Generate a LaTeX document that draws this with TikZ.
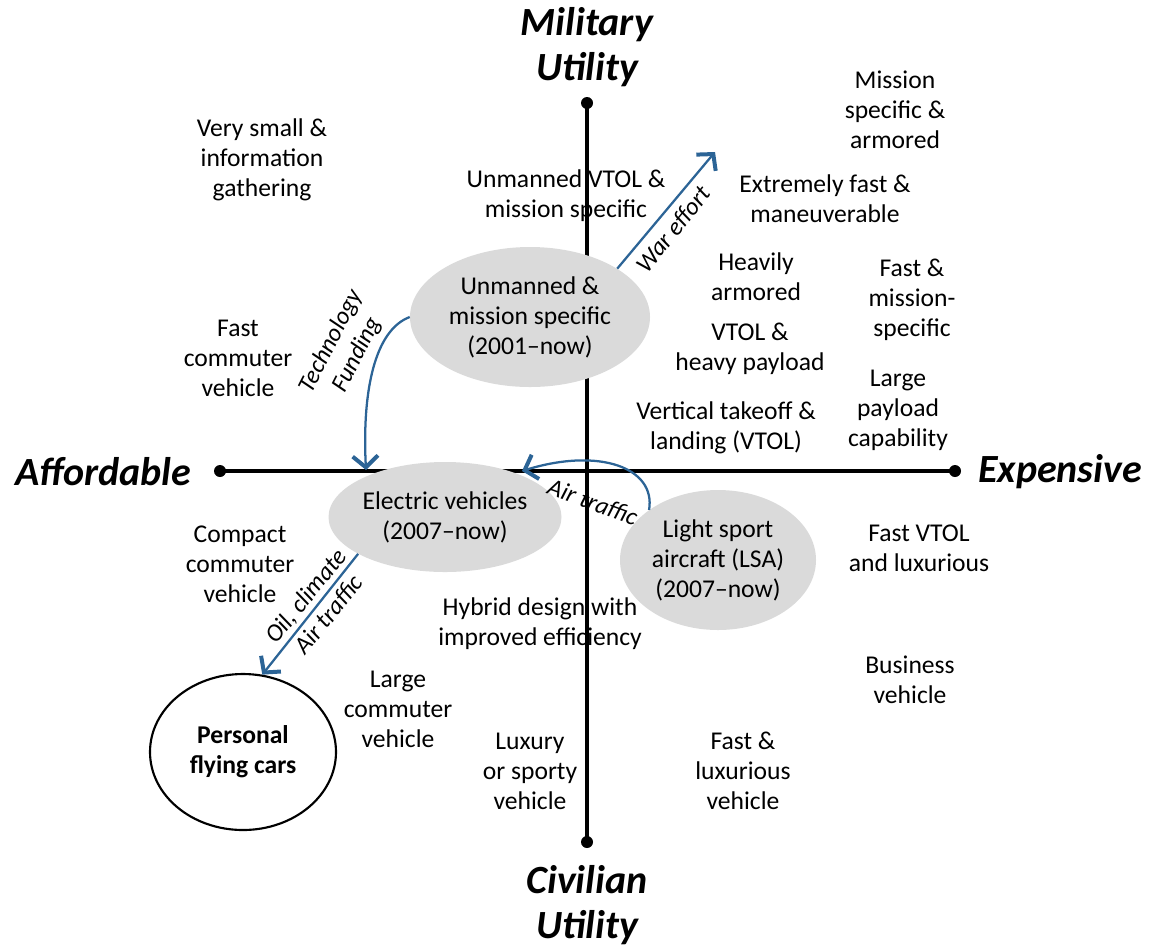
\documentclass[tikz,border=0pt]{standalone}
\usepackage{fontspec}
\setmainfont{Carlito}
\usetikzlibrary{arrows.meta,shapes.geometric}
\definecolor{arrblue}{RGB}{44,100,150}
\definecolor{ellgray}{RGB}{218,218,218}
\tikzset{
  lbl/.style={align=center, font=\fontsize{19.2}{22.5}\selectfont, inner sep=0pt},
  axtitle/.style={align=center, font=\fontsize{30}{34}\selectfont\bfseries\itshape, inner sep=0pt},
  grayell/.style={ellipse, fill=ellgray, draw=none, inner sep=0pt, align=center, font=\fontsize{19.2}{22.5}\selectfont},
  flow/.style={draw=arrblue, line width=1.7pt, -{Straight Barb[length=8.5pt,width=19pt,line width=3pt]}},
  flowlbl/.style={align=center, font=\fontsize{18.5}{22}\selectfont\itshape, inner sep=0pt},
  axis/.style={line width=3pt},
  enddot/.style={circle, fill=black, inner sep=0pt, minimum size=9pt}
}
\begin{document}
\begin{tikzpicture}[x=0.75pt,y=-0.75pt]
\useasboundingbox (0,0) rectangle (1162,947);
% axes
\node[enddot] (dl) at (220,471) {};
\node[enddot] (dr) at (955,471) {};
\node[enddot] (dt) at (587,103) {};
\node[enddot] (db) at (587,842) {};
\draw[axis] (dl.center) -- (dr.center);
\draw[axis] (dt.center) -- (db.center);
% axis titles
\node[axtitle] (mil) at (587,47) {Military\\Utility};
\node[axtitle] (civ) at (587,905) {Civilian\\Utility};
\node[axtitle] (aff) at (103,472) {Affordable};
\node[axtitle] (exp) at (1060,472) {Expensive};
% ellipses
\node[grayell, minimum width=180pt, minimum height=105pt] (unm) at (530,317) {Unmanned \&\\mission specific\\(2001--now)};
\node[grayell, minimum width=168pt, minimum height=82.5pt] (ev) at (445,517) {Electric vehicles\\(2007--now)};
\node[grayell, minimum width=147pt, minimum height=105pt] (lsa) at (718,560) {Light sport\\aircraft (LSA)\\(2007--now)};
\node[ellipse, draw=black, line width=1.6pt, fill=white, inner sep=0pt, minimum width=139.5pt, minimum height=117pt, align=center, font=\fontsize{19.2}{22.5}\selectfont\bfseries] (pfc) at (243,752) {Personal\\flying cars};
% labels
\node[lbl] (t1) at (262,160) {Very small \&\\information\\gathering};
\node[lbl] (t2) at (566,196) {Unmanned VTOL \&\\mission specific};
\node[lbl] (t3) at (895,110) {Mission\\specific \&\\armored};
\node[lbl] (t4) at (825,199) {Extremely fast \&\\maneuverable};
\node[lbl] (t5) at (756,277) {Heavily\\armored};
\node[lbl] (t6) at (912,300) {Fast \&\\mission-\\specific};
\node[lbl] (t7) at (238,358) {Fast\\commuter\\vehicle};
\node[lbl] (t8) at (750,349) {VTOL \&\\heavy payload};
\node[lbl] (t9) at (898,410) {Large\\payload\\capability};
\node[lbl] (t10) at (726,428) {Vertical takeoff \&\\landing (VTOL)};
\node[lbl] (t11) at (240,564) {Compact\\commuter\\vehicle};
\node[lbl] (t12) at (919,548) {Fast VTOL\\and luxurious};
\node[lbl] (t13) at (540,624) {Hybrid design with\\improved efficiency};
\node[lbl] (t14) at (910,680) {Business\\vehicle};
\node[lbl] (t15) at (398,709) {Large\\commuter\\vehicle};
\node[lbl] (t16) at (530,771) {Luxury\\or sporty\\vehicle};
\node[lbl] (t17) at (743,771) {Fast \&\\luxurious\\vehicle};
% arrows
\coordinate (warend) at (715,152);
\coordinate (techend) at (366,470);
\coordinate (airend) at (522,471);
\draw[flow] (unm.29) -- (warend);
\draw[flow] (unm.180) .. controls (375,330) and (362,390) .. (techend);
\draw[flow] (lsa.144) .. controls (656,468) and (600,447) .. (airend);
\draw[flow] (ev.203) -- (pfc.76);
% arrow labels
\node[flowlbl, rotate=51] (lwar) at (673,229) {War effort};
\node[flowlbl, rotate=63] (ltech) at (344,348) {Technology\\Funding};
\node[flowlbl, rotate=-20] (lair) at (593,502) {Air traffic};
\node[flowlbl, rotate=51] (loil) at (317,605) {Oil, climate\\Air traffic};
\end{tikzpicture}
\end{document}
